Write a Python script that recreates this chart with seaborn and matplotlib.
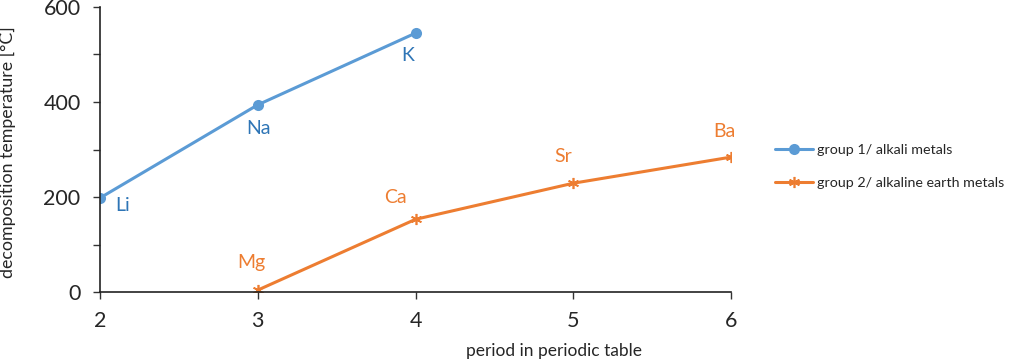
import pandas as pd
import matplotlib
matplotlib.use("Agg")
import matplotlib.pyplot as plt
import seaborn as sns

# values
periods_g1 = [2, 3, 4]
temps_g1 = [198, 394, 545]
names_g1 = ["Li", "Na", "K"]

periods_g2 = [3, 4, 5, 6]
temps_g2 = [4, 153, 229, 284]
names_g2 = ["Mg", "Ca", "Sr", "Ba"]

label_g1 = "group 1/ alkali metals"
label_g2 = "group 2/ alkaline earth metals"

blue, blue_txt = "#5B9BD5", "#2E75B6"
orange = "#ED7D31"

sns.set_theme(style="ticks")
plt.rcParams["font.family"] = ["Lato", "DejaVu Sans"]

df1 = pd.DataFrame({"period": periods_g1, "temp": temps_g1})
df2 = pd.DataFrame({"period": periods_g2, "temp": temps_g2})

fig = plt.figure(figsize=(10.24, 3.62), dpi=100)
ax = fig.add_axes([100 / 1024, 1 - 292 / 362, 631 / 1024, 285 / 362])

sns.lineplot(data=df1, x="period", y="temp", ax=ax, color=blue, lw=2.2,
             marker="o", markersize=8, markeredgewidth=0, label=label_g1)
sns.lineplot(data=df2, x="period", y="temp", ax=ax, color=orange, lw=2.2,
             marker=(6, 2, 0), markersize=8, markeredgewidth=1.2,
             markeredgecolor=orange, label=label_g2)

# element labels (offsets in pixels)
offs_g1 = [(23, -8), (1, -24), (-8, -22)]
offs_g2 = [(-6, 28), (-20, 22), (-10, 27), (-7, 26)]
for x, y, n, o in zip(periods_g1, temps_g1, names_g1, offs_g1):
    ax.annotate(n, (x, y), xytext=o, textcoords="offset pixels",
                ha="center", va="center", color=blue_txt, fontsize=14)
for x, y, n, o in zip(periods_g2, temps_g2, names_g2, offs_g2):
    ax.annotate(n, (x, y), xytext=o, textcoords="offset pixels",
                ha="center", va="center", color=orange, fontsize=14)

ax.set_xlim(2, 6)
ax.set_ylim(0, 600)
ax.set_xticks([2, 3, 4, 5, 6])
ax.set_yticks([0, 200, 400, 600])
ax.set_yticks([100, 300, 500], minor=True)
ax.tick_params(axis="both", labelsize=15.5, length=5, width=1, color="#333333")
ax.tick_params(axis="x", pad=9)
ax.tick_params(axis="y", pad=9)
ax.tick_params(axis="y", which="minor", length=5, width=1, color="#333333")
for s in ["top", "right"]:
    ax.spines[s].set_visible(False)
for s in ["left", "bottom"]:
    ax.spines[s].set_color("#222222")
    ax.spines[s].set_linewidth(1.2)

ax.set_xlabel("period in periodic table", fontsize=12.5)
ax.set_ylabel("decomposition temperature [°C]", fontsize=12.8)
ax.xaxis.set_label_coords(0.719, -0.18)
ax.yaxis.set_label_coords(-0.133, 0.49)

ax.legend(loc="center left", bbox_to_anchor=(1.05, 0.44), frameon=False,
          fontsize=10.3, handlelength=2.6, labelspacing=1.5, handletextpad=0.3)

fig.savefig("out.png", dpi=100)
